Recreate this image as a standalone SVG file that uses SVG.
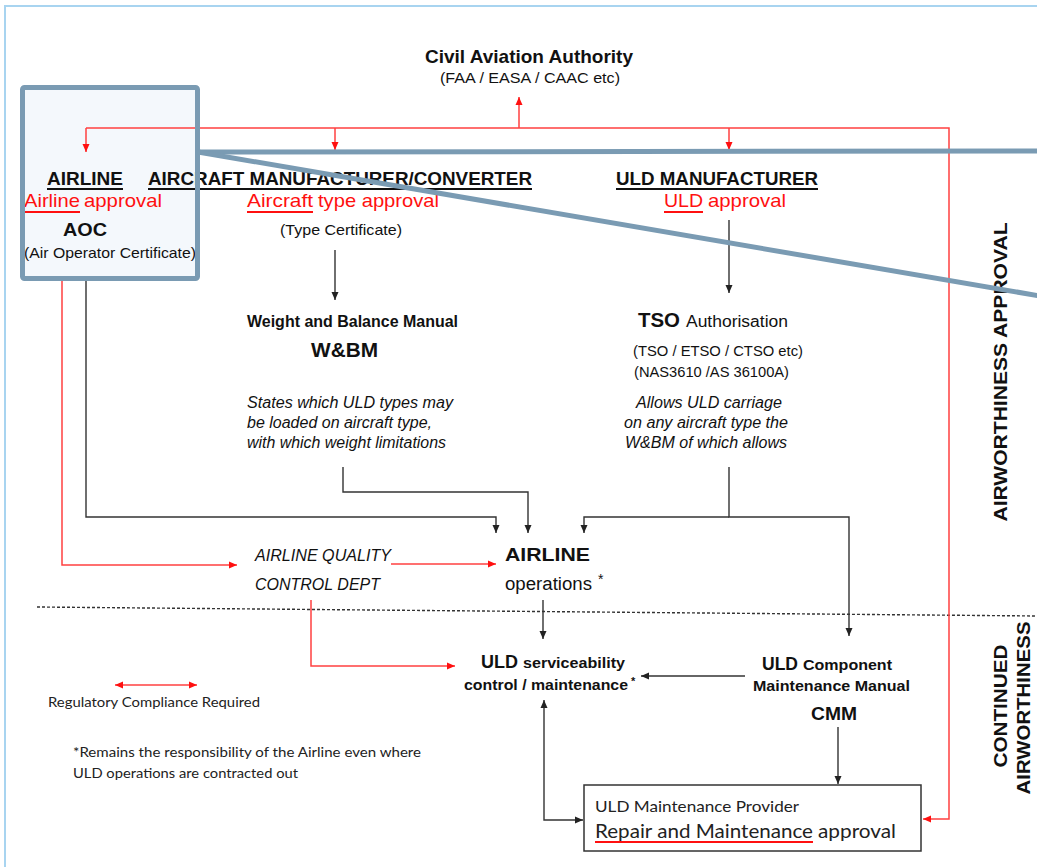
<svg xmlns="http://www.w3.org/2000/svg" width="1037" height="867" viewBox="0 0 1037 867">
<style>
.a{font-family:"Liberation Sans",Arial,sans-serif;fill:#111}
.b{font-weight:bold}
.i{font-style:italic}
.r{fill:#ff1010}
.c{font-family:Lato,"Open Sans",sans-serif;fill:#222}
.cr{stroke:#ff4040;stroke-width:1.5;fill:none}
.ck{stroke:#333;stroke-width:1.4;fill:none}
.ul{stroke:#111;stroke-width:2}
.ulr{stroke:#ff1010;stroke-width:2}
.hl{stroke:#7a9bb3;stroke-width:5;fill:none}
</style>
<defs>
<marker id="mk" markerUnits="userSpaceOnUse" markerWidth="9" markerHeight="8" refX="8" refY="4" orient="auto-start-reverse"><path d="M0,0.5 L8,4 L0,7.5 z" fill="#222"/></marker>
<marker id="mr" markerUnits="userSpaceOnUse" markerWidth="9" markerHeight="8" refX="8" refY="4" orient="auto-start-reverse"><path d="M0,0.5 L8,4 L0,7.5 z" fill="#ff1010"/></marker>
</defs>
<rect x="0" y="0" width="1037" height="867" fill="#fff"/>
<rect x="5" y="6" width="1100" height="900" fill="none" stroke="#a8d4f0" stroke-width="2"/>
<rect x="22.5" y="87.5" width="175" height="191" fill="#f4f8fc"/>

<g id="caa">
<text class="a b" x="425" y="63" font-size="19" textLength="208" lengthAdjust="spacingAndGlyphs">Civil Aviation Authority</text>
<text class="a" x="440" y="83" font-size="14" textLength="180" lengthAdjust="spacingAndGlyphs">(FAA / EASA / CAAC etc)</text>
</g>

<g id="airline">
<text class="a b" x="47" y="185" font-size="19" textLength="76" lengthAdjust="spacingAndGlyphs">AIRLINE</text>
<line class="ul" x1="47" y1="189" x2="123" y2="189"/>
<text class="a r" x="24" y="207" font-size="19" textLength="56" lengthAdjust="spacingAndGlyphs">Airline</text>
<line class="ulr" x1="24" y1="212" x2="80" y2="212"/>
<text class="a r" x="84" y="207" font-size="19" textLength="78" lengthAdjust="spacingAndGlyphs">approval</text>
<text class="a b" x="63" y="236" font-size="19" textLength="44" lengthAdjust="spacingAndGlyphs">AOC</text>
<text class="a" x="24" y="258" font-size="15" textLength="172" lengthAdjust="spacingAndGlyphs">(Air Operator Certificate)</text>
</g>

<g id="aircraft-manufacturer">
<text class="a b" x="148" y="185" font-size="19" textLength="384" lengthAdjust="spacingAndGlyphs">AIRCRAFT MANUFACTURER/CONVERTER</text>
<line class="ul" x1="148" y1="189" x2="532" y2="189"/>
<text class="a r" x="247" y="207" font-size="19" textLength="66" lengthAdjust="spacingAndGlyphs">Aircraft</text>
<line class="ulr" x1="247" y1="212" x2="313" y2="212"/>
<text class="a r" x="318" y="207" font-size="19" textLength="121" lengthAdjust="spacingAndGlyphs">type approval</text>
<text class="a" x="280" y="235" font-size="15" textLength="122" lengthAdjust="spacingAndGlyphs">(Type Certificate)</text>
</g>

<g id="uld-manufacturer">
<text class="a b" x="616" y="185" font-size="19" textLength="202" lengthAdjust="spacingAndGlyphs">ULD MANUFACTURER</text>
<line class="ul" x1="616" y1="189" x2="818" y2="189"/>
<text class="a r" x="664" y="207" font-size="19" textLength="39" lengthAdjust="spacingAndGlyphs">ULD</text>
<line class="ulr" x1="664" y1="212" x2="703" y2="212"/>
<text class="a r" x="708" y="207" font-size="19" textLength="78" lengthAdjust="spacingAndGlyphs">approval</text>
</g>

<g id="wbm">
<text class="a b" x="247" y="327" font-size="16" textLength="211" lengthAdjust="spacingAndGlyphs">Weight and Balance Manual</text>
<text class="a b" x="311" y="357" font-size="20" textLength="67" lengthAdjust="spacingAndGlyphs">W&amp;BM</text>
<text class="a i" x="247" y="408" font-size="16" textLength="206" lengthAdjust="spacingAndGlyphs">States which ULD types may</text>
<text class="a i" x="247" y="428" font-size="16" textLength="185" lengthAdjust="spacingAndGlyphs">be loaded on aircraft type,</text>
<text class="a i" x="247" y="448" font-size="16" textLength="199" lengthAdjust="spacingAndGlyphs">with which weight limitations</text>
</g>

<g id="tso">
<text class="a b" x="638" y="327" font-size="20" textLength="42" lengthAdjust="spacingAndGlyphs">TSO</text>
<text class="a" x="686" y="327" font-size="16" textLength="102" lengthAdjust="spacingAndGlyphs">Authorisation</text>
<text class="a" x="633" y="356" font-size="15" textLength="170" lengthAdjust="spacingAndGlyphs">(TSO / ETSO / CTSO etc)</text>
<text class="a" x="634" y="377" font-size="15" textLength="155" lengthAdjust="spacingAndGlyphs">(NAS3610 /AS 36100A)</text>
<text class="a i" x="636" y="408" font-size="16" textLength="146" lengthAdjust="spacingAndGlyphs">Allows ULD carriage</text>
<text class="a i" x="624" y="428" font-size="16" textLength="164" lengthAdjust="spacingAndGlyphs">on any aircraft type the</text>
<text class="a i" x="625" y="448" font-size="16" textLength="162" lengthAdjust="spacingAndGlyphs">W&amp;BM of which allows</text>
</g>

<g id="quality-dept">
<text class="a i" x="255" y="561" font-size="16" textLength="136" lengthAdjust="spacingAndGlyphs">AIRLINE QUALITY</text>
<text class="a i" x="255" y="590" font-size="16" textLength="125" lengthAdjust="spacingAndGlyphs">CONTROL DEPT</text>
</g>

<g id="airline-ops">
<text class="a b" x="505" y="561" font-size="19" textLength="85" lengthAdjust="spacingAndGlyphs">AIRLINE</text>
<text class="a" x="505" y="590" font-size="18" textLength="87" lengthAdjust="spacingAndGlyphs">operations</text>
<text class="a" x="598" y="584" font-size="14">*</text>
</g>

<g id="uld-serviceability">
<text class="a b" x="481" y="668" font-size="19" textLength="37" lengthAdjust="spacingAndGlyphs">ULD</text>
<text class="a b" x="523" y="668" font-size="15" textLength="102" lengthAdjust="spacingAndGlyphs">serviceability</text>
<text class="a b" x="464" y="690" font-size="15" textLength="164" lengthAdjust="spacingAndGlyphs">control / maintenance</text>
<text class="a b" x="631" y="685" font-size="11">*</text>
</g>

<g id="cmm">
<text class="a b" x="762" y="670" font-size="19" textLength="36" lengthAdjust="spacingAndGlyphs">ULD</text>
<text class="a b" x="803" y="670" font-size="15" textLength="89" lengthAdjust="spacingAndGlyphs">Component</text>
<text class="a b" x="753" y="691" font-size="15" textLength="157" lengthAdjust="spacingAndGlyphs">Maintenance Manual</text>
<text class="a b" x="811" y="720" font-size="19" textLength="46" lengthAdjust="spacingAndGlyphs">CMM</text>
</g>

<g id="maintenance-provider">
<rect x="584" y="785" width="337" height="66" fill="#fff" stroke="#333" stroke-width="1.5"/>
<text class="c" x="595" y="812" font-size="16" textLength="204" lengthAdjust="spacingAndGlyphs">ULD Maintenance Provider</text>
<text class="c r" x="595" y="838" font-size="19" textLength="218" lengthAdjust="spacingAndGlyphs">Repair and Maintenance</text>
<line class="ulr" x1="595" y1="842" x2="813" y2="842"/>
<text class="c r" x="818" y="838" font-size="19" textLength="78" lengthAdjust="spacingAndGlyphs">approval</text>
</g>

<g id="legend">
<text class="c" x="48" y="707" font-size="14" textLength="212" lengthAdjust="spacingAndGlyphs">Regulatory Compliance Required</text>
<text class="c" x="73" y="757" font-size="14" textLength="348" lengthAdjust="spacingAndGlyphs">*Remains the responsibility of the Airline even where</text>
<text class="c" x="73" y="778" font-size="14" textLength="225" lengthAdjust="spacingAndGlyphs">ULD operations are contracted out</text>
</g>

<g id="side-labels">
<text class="a b" transform="translate(1007,372) rotate(-90)" x="0" y="0" text-anchor="middle" font-size="19" textLength="299" lengthAdjust="spacingAndGlyphs">AIRWORTHINESS APPROVAL</text>
<text class="a b" transform="translate(1007,706) rotate(-90)" x="0" y="0" text-anchor="middle" font-size="19" textLength="123" lengthAdjust="spacingAndGlyphs">CONTINUED</text>
<text class="a b" transform="translate(1030,708) rotate(-90)" x="0" y="0" text-anchor="middle" font-size="19" textLength="173" lengthAdjust="spacingAndGlyphs">AIRWORTHINESS</text>
</g>

<g id="connectors">
<path class="ck" d="M37,607 L1037,616" stroke-dasharray="3,2" stroke-width="1"/>
<path class="cr" d="M519,128 V97" marker-end="url(#mr)"/>
<path class="cr" d="M86,128 H949 V819 H923" marker-end="url(#mr)"/>
<path class="cr" d="M86,128 V152" marker-end="url(#mr)"/>
<path class="cr" d="M335,128 V150" marker-end="url(#mr)"/>
<path class="cr" d="M729,128 V150" marker-end="url(#mr)"/>
<path class="cr" d="M62,281 V565 H237" marker-end="url(#mr)"/>
<path class="cr" d="M391,564 H496" marker-end="url(#mr)"/>
<path class="cr" d="M311,600 V666 H455" marker-end="url(#mr)"/>
<path class="cr" d="M115,685 H197" marker-start="url(#mr)" marker-end="url(#mr)"/>
<path class="ck" d="M335,250 V300" marker-end="url(#mk)"/>
<path class="ck" d="M729,220 V293" marker-end="url(#mk)"/>
<path class="ck" d="M86,281 V517 H496 V533" marker-end="url(#mk)"/>
<path class="ck" d="M343,467 V492 H528 V533" marker-end="url(#mk)"/>
<path class="ck" d="M729,517 H584 V533" marker-end="url(#mk)"/>
<path class="ck" d="M729,467 V517 H849 V636" marker-end="url(#mk)"/>
<path class="ck" d="M543,600 V639" marker-end="url(#mk)"/>
<path class="ck" d="M745,676 H641" marker-end="url(#mk)"/>
<path class="ck" d="M838,727 V784" marker-end="url(#mk)"/>
<path class="ck" d="M544,700 V820 H583" marker-start="url(#mk)" marker-end="url(#mk)"/>
</g>

<g id="highlight">
<rect class="hl" x="22.5" y="87.5" width="175" height="191" rx="2"/>
<line class="hl" x1="198" y1="152" x2="1040" y2="151"/>
<line class="hl" x1="198" y1="152" x2="1040" y2="296"/>
</g>
</svg>
